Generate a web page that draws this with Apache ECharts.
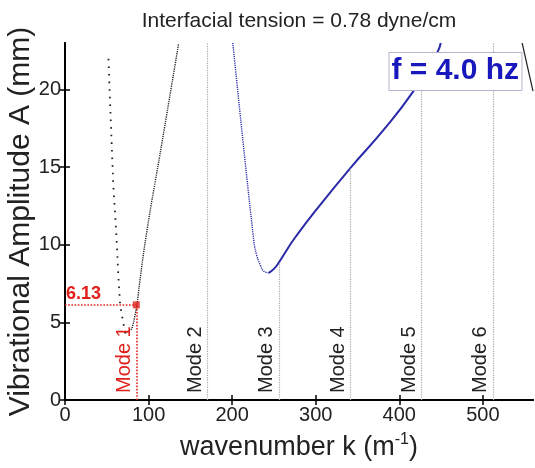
<!DOCTYPE html>
<html>
<head>
<meta charset="utf-8">
<script src="https://cdn.jsdelivr.net/npm/echarts@6/dist/echarts.min.js"></script>
<style>
  html, body { margin: 0; padding: 0; background: #fff; }
  #chart { width: 535px; height: 468px; }
</style>
</head>
<body>
<div id="chart"></div>
<script>
// axis ticks
const xTicks = [0, 100, 200, 300, 400, 500]
const yTicks = [0, 5, 10, 15, 20]

// black branch, sparse dots (left side)
const blackSparse = [[72, 4.3], [66, 6.1], [63.9, 7.93], [62, 10.08], [60, 12.0], [57.9, 13.72], [56, 16.29], [54, 19.08], [51.9, 22.19]]
// black branch, dense dots (through mode 1 point)
const blackDense = [[72, 4.3], [79.9, 4.6], [86, 6.1], [88.7, 7.29], [93.9, 9.43], [101.9, 12.2], [113.9, 15.9], [135.9, 22.94]]
// blue branch, dotted part going down to the minimum
const blueDotted = [[200.8, 23], [225.8, 10.29], [229.5, 9.3], [233.8, 8.68], [237.8, 8.3], [243.8, 8.19]]
// blue branch, solid part going up
const blueSolid = [[243.8, 8.19], [250, 8.45], [255.8, 8.85], [265.8, 9.7], [275.8, 10.5], [299.8, 12.2], [341.7, 14.96], [379.7, 17.3], [415.7, 19.8], [445.6, 22.4], [449.6, 23]]
// black line at top right
const blackRight = [[547, 23], [560, 19.9]]

// modes
const modeNames = ['Mode 1', 'Mode 2', 'Mode 3', 'Mode 4', 'Mode 5', 'Mode 6']
const modeK = [85.3, 170.6, 256, 341.3, 426.6, 512]
const modeTop = [6.13, 23, 8.85, 14.96, 20.8, 23]
const mode1Amp = 6.13

const FONT = "'Liberation Sans', Arial, sans-serif"
const TXT = '#222'

const chart = echarts.init(document.getElementById('chart'))

// grey mode lines (modes 2..6)
const modeLines = modeK.slice(1).map((k, i) => [
  { coord: [k, 0], name: modeNames[i + 1] },
  { coord: [k, modeTop[i + 1]] },
])

const baseX = {
  type: 'value',
  min: 0,
  max: 560,
  axisLine: { show: true, lineStyle: { color: '#000', width: 2 } },
  axisTick: { show: true, inside: true, length: 5, customValues: xTicks, lineStyle: { color: '#000', width: 1.5 } },
  splitLine: { show: false },
}
const baseY = {
  type: 'value',
  min: 0,
  max: 23,
  axisLine: { show: true, lineStyle: { color: '#000', width: 2 } },
  axisTick: { show: true, inside: true, length: 5, customValues: yTicks, lineStyle: { color: '#000', width: 1.5 } },
  splitLine: { show: false },
}

chart.setOption({
  animation: false,
  textStyle: { fontFamily: FONT },
  title: {
    text: 'f = 4.0 hz',
    right: 13,
    top: 52,
    padding: [4, 3, 5, 3],
    backgroundColor: '#fff',
    borderColor: '#b4b4cc',
    borderWidth: 1,
    textStyle: { fontFamily: FONT, fontSize: 30, fontWeight: 'bold', color: '#1818bc' },
  },
  graphic: [
    {
      type: 'text',
      x: 299,
      y: 21,
      style: {
        text: 'Interfacial tension = 0.78 dyne/cm',
        font: '21px ' + FONT,
        fill: TXT,
        align: 'center',
        verticalAlign: 'middle',
      },
    },
  ],
  grid: { left: 65, right: 2, top: 43, bottom: 68, outerBoundsMode: 'none', containLabel: false },
  xAxis: [
    {
      ...baseX,
      position: 'bottom',
      name: 'wavenumber k (m{sup|-1})',
      nameLocation: 'middle',
      nameGap: 32,
      nameMoveOverlap: false,
      nameTextStyle: {
        fontFamily: FONT, fontSize: 27, color: TXT,
        rich: { sup: { fontFamily: FONT, fontSize: 16, color: TXT, padding: [0, 0, 16, 0] } },
      },
      axisLabel: { show: true, customValues: xTicks, fontSize: 20, color: TXT, margin: 5, fontFamily: FONT },
    },
    { ...baseX, position: 'top', axisLabel: { show: false } },
  ],
  yAxis: [
    {
      ...baseY,
      position: 'left',
      name: 'Vibrational Amplitude A (mm)',
      nameLocation: 'middle',
      nameGap: 28,
      nameMoveOverlap: false,
      nameTextStyle: { fontFamily: FONT, fontSize: 30, color: TXT, lineHeight: 32 },
      axisLabel: { show: true, customValues: yTicks, fontSize: 20, color: TXT, margin: 4, fontFamily: FONT },
    },
    { ...baseY, position: 'right', axisLabel: { show: false } },
  ],
  series: [
    {
      name: 'modes',
      type: 'line',
      data: [],
      silent: true,
      markLine: {
        silent: true,
        symbol: 'none',
        animation: false,
        lineStyle: { color: '#a8a8a8', type: 'dotted', width: 1.2 },
        label: {
          show: true,
          position: 'insideStartTop',
          formatter: (p) => p.name,
          fontFamily: FONT,
          fontSize: 20,
          color: TXT,
          distance: [7, 2],
        },
        emphasis: { disabled: true },
        data: modeLines,
      },
    },
    {
      name: 'black sparse',
      type: 'line',
      data: blackSparse,
      showSymbol: false,
      smooth: false,
      lineStyle: { color: '#222', width: 1.8, type: [1.6, 6] },
      z: 3,
    },
    {
      name: 'black dense',
      type: 'line',
      data: blackDense,
      showSymbol: false,
      smooth: 0.2,
      lineStyle: { color: '#222', width: 1.4, type: [1.2, 1] },
      z: 3,
    },
    {
      name: 'blue dotted',
      type: 'line',
      data: blueDotted,
      showSymbol: false,
      smooth: 0.4,
      lineStyle: { color: '#2a2aa8', width: 1.4, type: [1.2, 1] },
      z: 3,
    },
    {
      name: 'blue solid',
      type: 'line',
      data: blueSolid,
      showSymbol: false,
      smooth: 0.5,
      lineStyle: { color: '#2a2aa8', width: 2 },
      z: 3,
    },
    {
      name: 'black right',
      type: 'line',
      data: blackRight,
      showSymbol: false,
      lineStyle: { color: '#222', width: 1.2 },
      z: 3,
    },
    {
      name: 'mode 1',
      type: 'scatter',
      data: [[modeK[0], mode1Amp]],
      symbol: 'rect',
      symbolSize: 7,
      itemStyle: { color: '#e0201c' },
      z: 5,
      markLine: {
        silent: true,
        symbol: 'none',
        animation: false,
        lineStyle: { color: '#e0201c', type: 'dotted', width: 1.6 },
        emphasis: { disabled: true },
        data: [
          [
            { coord: [0, mode1Amp], name: String(mode1Amp),
              label: { fontWeight: 'bold', fontSize: 18, distance: [1, 2] } },
            { coord: [modeK[0], mode1Amp] },
          ],
          [
            { coord: [modeK[0], 0], name: modeNames[0] },
            { coord: [modeK[0], mode1Amp] },
          ],
        ],
        label: {
          show: true,
          position: 'insideStartTop',
          formatter: (p) => p.name,
          fontFamily: FONT,
          fontSize: 20,
          color: '#e0201c',
          distance: [7, 2],
        },
      },
    },
  ],
})
</script>
</body>
</html>
